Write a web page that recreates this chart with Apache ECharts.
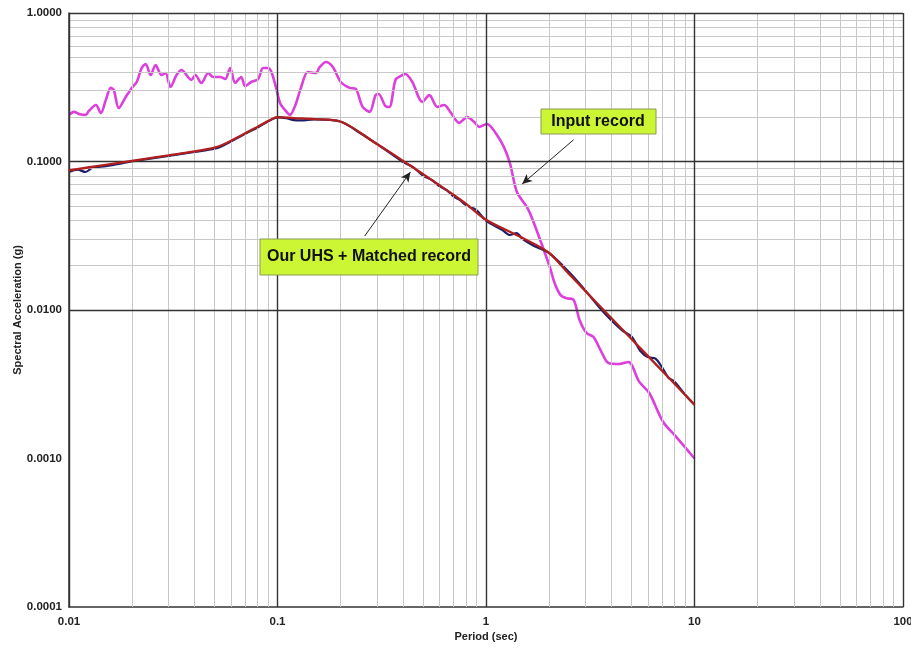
<!DOCTYPE html>
<html>
<head>
<meta charset="utf-8">
<script src="https://cdn.jsdelivr.net/npm/echarts@6/dist/echarts.min.js"></script>
<style>html,body{margin:0;padding:0;background:#fff;}#c{width:911px;height:650px;}</style>
</head>
<body>
<div id="c"></div>
<script>
// ---- data ----
const periodsInput = [0.0100,0.01057,0.01116,0.01205,0.01245,0.01346,0.01422,0.01502,0.01586,0.01640,0.01733,0.01871,0.0200,0.02113,0.02231,0.02332,0.02463,0.02601,0.02778,0.02903,0.03066,0.03279,0.03463,0.03865,0.04037,0.04313,0.04656,0.04920,0.05316,0.05614,0.05929,0.06262,0.06693,0.06994,0.07475,0.08074,0.08529,0.0901,0.0935,0.0985,0.1028,0.1087,0.1148,0.1213,0.1295,0.1398,0.1527,0.1595,0.1705,0.1842,0.2011,0.2219,0.2371,0.2561,0.2766,0.2954,0.3052,0.3296,0.3443,0.3678,0.3890,0.4104,0.4432,0.4951,0.5350,0.5843,0.6305,0.6736,0.7436,0.8118,0.8770,0.9265,1.011,1.104,1.219,1.302,1.407,1.570,1.675,1.893,2.023,2.133,2.279,2.436,2.631,2.810,3.036,3.279,3.581,3.866,4.363,4.819,5.435,6.068,7.079,8.166,10.0];
const saInput = [0.206,0.216,0.209,0.206,0.219,0.240,0.212,0.260,0.313,0.303,0.229,0.272,0.313,0.343,0.426,0.454,0.382,0.447,0.382,0.394,0.318,0.382,0.413,0.354,0.382,0.338,0.394,0.371,0.371,0.359,0.426,0.338,0.371,0.322,0.343,0.359,0.426,0.426,0.401,0.313,0.248,0.222,0.206,0.236,0.313,0.401,0.394,0.433,0.468,0.433,0.343,0.313,0.308,0.233,0.216,0.280,0.285,0.236,0.233,0.354,0.376,0.388,0.343,0.252,0.280,0.233,0.240,0.216,0.182,0.199,0.185,0.171,0.179,0.158,0.125,0.0977,0.0623,0.0494,0.0404,0.0254,0.0195,0.0152,0.0126,0.0120,0.0117,0.00857,0.00700,0.00658,0.00521,0.00440,0.00433,0.00447,0.00328,0.00276,0.00176,0.00140,0.00100];

const periodsUHS = [0.01,0.015,0.02,0.03,0.04,0.05,0.055,0.07,0.08,0.09,0.1,0.12,0.15,0.2,0.3,0.4,0.5,0.6,0.7,0.8,1.0,1.5,2.0,2.5,3.0,4.0,5.0,6.0,7.0,8.0,10.0];
const saUHS = [0.087,0.095,0.101,0.110,0.117,0.124,0.130,0.155,0.171,0.187,0.199,0.196,0.193,0.186,0.131,0.101,0.082,0.069,0.0595,0.052,0.0405,0.0305,0.0243,0.0175,0.0134,0.0088,0.00635,0.00487,0.00389,0.00320,0.0023];

const periodsMatched = [0.01,0.011,0.012,0.013,0.015,0.017,0.02,0.03,0.04,0.05,0.055,0.07,0.08,0.09,0.1,0.11,0.12,0.13,0.15,0.2,0.25,0.3,0.35,0.4,0.45,0.5,0.55,0.6,0.65,0.7,0.75,0.8,0.9,1.0,1.2,1.3,1.4,1.5,1.7,2.0,2.5,3.0,3.5,4.0,4.5,5.0,5.5,6.0,6.5,7.0,7.5,8.0,9.0,10.0];
const saMatched = [0.085,0.088,0.085,0.091,0.093,0.096,0.100,0.109,0.116,0.122,0.128,0.154,0.169,0.186,0.198,0.196,0.190,0.189,0.192,0.186,0.155,0.131,0.113,0.099,0.091,0.080,0.075,0.068,0.064,0.058,0.055,0.051,0.047,0.0400,0.0345,0.0320,0.0330,0.0300,0.0270,0.0243,0.0180,0.0135,0.0104,0.0085,0.0073,0.0066,0.0053,0.0048,0.0047,0.0041,0.0035,0.0033,0.0027,0.0023];

const xTicks = [0.01,0.1,1,10,100];
const yTicks = [0.0001,0.001,0.01,0.1,1];
const minorMultipliers = [2,3,4,5,6,7,8,9];

const labelInput = 'Input record';
const labelUHS = 'Our UHS + Matched record';
// arrows: [from, to] in data coordinates (period, SA)
const arrowInput = [[2.63,0.140],[1.49,0.0705]];
const arrowUHS = [[0.262,0.0315],[0.434,0.085]];

// ---- build ----
const zip = (a,b) => a.map((v,i)=>[v,b[i]]);
const minorX = [], minorY = [];
xTicks.slice(0,-1).forEach(d => minorMultipliers.forEach(m => minorX.push(+(d*m).toPrecision(3))));
yTicks.slice(0,-1).forEach(d => minorMultipliers.forEach(m => minorY.push(+(d*m).toPrecision(3))));

const font = 'Liberation Sans, Arial, sans-serif';
const chart = echarts.init(document.getElementById('c'), null, {renderer:'canvas'});
chart.setOption({
  animation:false,
  backgroundColor:'#fff',
  grid:{left:69,right:8,top:13,bottom:43,containLabel:false,outerBoundsMode:'none'},
  xAxis:{
    type:'log',logBase:10,min:0.01,max:100,
    name:'Period (sec)',nameLocation:'middle',nameGap:24,nameMoveOverlap:false,
    nameTextStyle:{fontFamily:font,fontWeight:'bold',fontSize:11,color:'#222'},
    axisLine:{show:true,lineStyle:{color:'#333',width:1.5}},
    axisTick:{show:false},
    axisLabel:{fontFamily:font,fontWeight:'bold',fontSize:11.5,color:'#222',margin:9,
      formatter:v=>{const r=xTicks.find(t=>Math.abs(Math.log10(t)-Math.log10(v))<1e-6);return r===undefined?'':String(r);}},
    splitLine:{show:false}
  },
  yAxis:{
    type:'log',logBase:10,min:0.0001,max:1,
    name:'Spectral Acceleration (g)',nameLocation:'middle',nameGap:46,nameRotate:90,nameMoveOverlap:false,
    nameTextStyle:{fontFamily:font,fontWeight:'bold',fontSize:11,color:'#222'},
    axisLine:{show:true,lineStyle:{color:'#333',width:1.5}},
    axisTick:{show:false},
    axisLabel:{fontFamily:font,fontWeight:'bold',fontSize:11.5,color:'#222',margin:7,
      formatter:v=>{const r=yTicks.find(t=>Math.abs(Math.log10(t)-Math.log10(v))<1e-6);return r===undefined?'':r.toFixed(4);}},
    splitLine:{show:false}
  },
  series:[
    {
      type:'line',data:[],silent:true,z:1,
      markLine:{silent:true,symbol:['none','none'],label:{show:false},
        lineStyle:{color:'#c8c8c8',width:1,type:'solid'},
        data:[...minorX.map(v=>({xAxis:v})),...minorY.map(v=>({yAxis:v}))]}
    },
    {
      type:'line',data:[],silent:true,z:2,
      markLine:{silent:true,symbol:['none','none'],label:{show:false},
        lineStyle:{color:'#333',width:1.4,type:'solid'},
        data:[...xTicks.map(v=>({xAxis:v})),...yTicks.map(v=>({yAxis:v}))]}
    },
    {
      name:labelInput,type:'line',data:zip(periodsInput,saInput),showSymbol:false,smooth:0.3,z:3,
      lineStyle:{color:'#dd3fdd',width:2.6}
    },
    {
      name:'Matched',type:'line',data:zip(periodsMatched,saMatched),showSymbol:false,smooth:0.3,z:4,
      lineStyle:{color:'#1b1f6b',width:2.2}
    },
    {
      name:'UHS',type:'line',data:zip(periodsUHS,saUHS),showSymbol:false,smooth:0.3,z:5,
      lineStyle:{color:'#b01e1e',width:2.3},
      markLine:{silent:true,symbol:['none','arrow'],symbolSize:[7,10],label:{show:false},
        lineStyle:{color:'#222',width:1,type:'solid'},
        data:[[{coord:arrowInput[0]},{coord:arrowInput[1]}],[{coord:arrowUHS[0]},{coord:arrowUHS[1]}]]}
    }
  ],
  graphic:[
    {type:'rect',shape:{x:541,y:109,width:115,height:25},style:{fill:'#ccf533',stroke:'#8a9a5a',lineWidth:1},z:100},
    {type:'text',x:598,y:121.5,style:{text:labelInput,font:'bold 16px '+font,fill:'#111',align:'center',verticalAlign:'middle'},z:101},
    {type:'rect',shape:{x:260,y:239,width:218,height:36},style:{fill:'#ccf533',stroke:'#8a9a5a',lineWidth:1},z:100},
    {type:'text',x:369,y:257,style:{text:labelUHS,font:'bold 16px '+font,fill:'#111',align:'center',verticalAlign:'middle'},z:101}
  ]
});
</script>
</body>
</html>
